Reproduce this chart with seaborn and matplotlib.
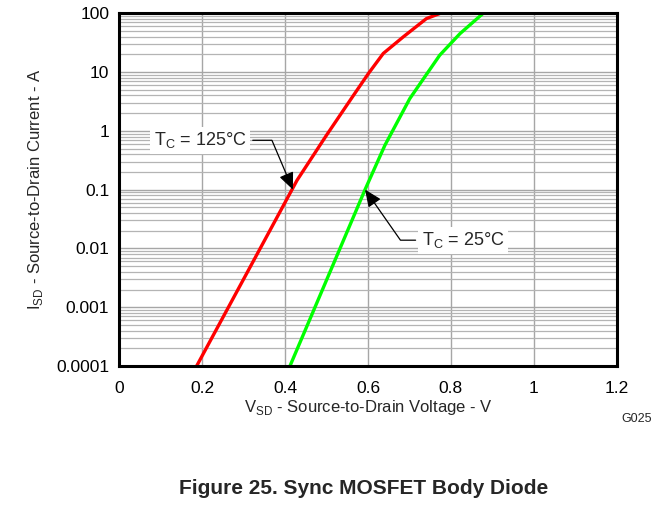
import numpy as np
import pandas as pd
import matplotlib
matplotlib.use("Agg")
import matplotlib.pyplot as plt
from matplotlib.ticker import LogLocator, FixedLocator, NullFormatter
import seaborn as sns

# --- data (Figure 25) ---
v_125 = [0.187, 0.429, 0.500, 0.565, 0.601, 0.637, 0.685, 0.741, 0.775]
i_125 = [1e-4, 0.144, 0.84, 4.0, 9.4, 20.7, 39.5, 81.0, 100.0]
v_25 = [0.412, 0.593, 0.641, 0.701, 0.773, 0.822, 0.878]
i_25 = [1e-4, 0.1, 0.57, 3.54, 19.3, 45.0, 100.0]

x_ticks = [0, 0.2, 0.4, 0.6, 0.8, 1, 1.2]
x_labels = ["0", "0.2", "0.4", "0.6", "0.8", "1", "1.2"]
y_ticks = [1e-4, 1e-3, 1e-2, 1e-1, 1, 10, 100]
y_labels = ["0.0001", "0.001", "0.01", "0.1", "1", "10", "100"]

df = pd.concat([
    pd.DataFrame({"V": v_125, "I": i_125, "Tc": "125"}),
    pd.DataFrame({"V": v_25, "I": i_25, "Tc": "25"}),
])

sns.set_style("white")
plt.rcParams["font.family"] = ["Liberation Sans", "DejaVu Sans"]

fig = plt.figure(figsize=(6.69, 5.08), dpi=100)
ax = fig.add_axes([0.178, 0.2795, 0.744, 0.6945])

ax.set_yscale("log")
ax.set_xlim(0, 1.2)
ax.set_ylim(1e-4, 100)

# grid
ax.xaxis.set_major_locator(FixedLocator(x_ticks))
ax.yaxis.set_major_locator(FixedLocator(y_ticks))
ax.yaxis.set_minor_locator(LogLocator(base=10, subs=np.arange(2, 10), numticks=20))
ax.yaxis.set_minor_formatter(NullFormatter())
ax.grid(True, which="major", axis="both", color="#a6a6a6", lw=1.0)
ax.grid(True, which="minor", axis="y", color="#b4b4b4", lw=0.9)
ax.set_axisbelow(True)

sns.lineplot(data=df, x="V", y="I", hue="Tc", palette={"125": "#ff0000", "25": "#00ff00"},
             lw=2.4, legend=False, sort=False, estimator=None, ax=ax)

ax.set_xticklabels(x_labels)
ax.set_yticklabels(y_labels)
ax.tick_params(axis="both", which="both", length=0, labelsize=12.5, colors="black")
ax.tick_params(axis="x", pad=11)
ax.tick_params(axis="y", pad=7)

for s in ax.spines.values():
    s.set_visible(True)
    s.set_color("black")
    s.set_linewidth(2.2)

ax.set_xlabel(r"V$_{\mathregular{SD}}$ - Source-to-Drain Voltage - V", fontsize=12, labelpad=1)
ax.set_ylabel(r"I$_{\mathregular{SD}}$ - Source-to-Drain Current - A", fontsize=12, labelpad=8)

box = dict(boxstyle="square,pad=0.2", fc="white", ec="none")
arrow = dict(arrowstyle="-|>,head_length=0.8,head_width=0.35", color="black", lw=0.9,
             shrinkA=2, shrinkB=0)

ax.annotate(r"T$_{\mathregular{C}}$ = 125°C", xy=(0.419, 0.1), xytext=(0.195, 0.69),
            fontsize=13, ha="center", va="center", bbox=box,
            arrowprops=dict(arrow, connectionstyle="angle,angleA=0,angleB=113,rad=0"))
ax.annotate(r"T$_{\mathregular{C}}$ = 25°C", xy=(0.593, 0.1), xytext=(0.83, 0.0138),
            fontsize=13, ha="center", va="center", bbox=box,
            arrowprops=dict(arrow, connectionstyle="angle,angleA=180,angleB=-55,rad=0"))

fig.text(637 / 669, 1 - 419 / 508, "G025", fontsize=9, ha="center", va="center")
fig.text(364 / 669, 1 - 489 / 508, "Figure 25. Sync MOSFET Body Diode",
         fontsize=15, fontweight="bold", ha="center", va="center")

fig.savefig("out.png", dpi=100)
